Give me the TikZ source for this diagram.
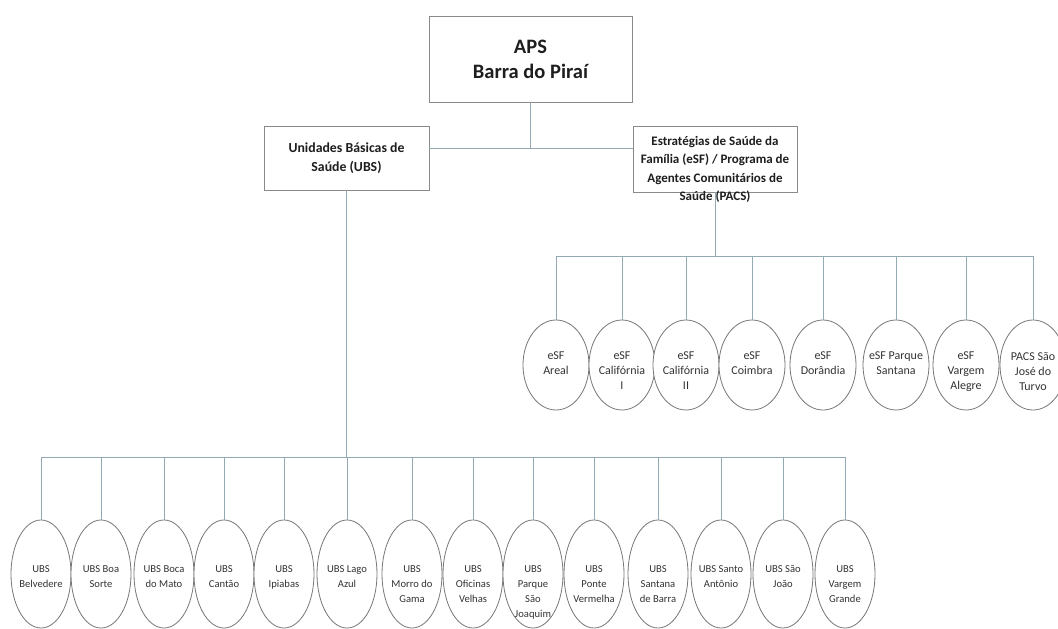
\documentclass[tikz,border=0pt]{standalone}
\usepackage{fontspec}
\setmainfont{Carlito}
\usepackage{tikz}
\usetikzlibrary{positioning, shapes.geometric}
\usepackage{xcolor}
\definecolor{lineBlue}{HTML}{93A9B4}
\definecolor{boxGrey}{HTML}{8A8A8A}
\definecolor{ovalGrey}{HTML}{787878}
\definecolor{textDark}{HTML}{333333}
\definecolor{textBlack}{HTML}{1E1E1E}
\tikzset{
  orgbox/.style={draw=boxGrey, line width=0.9pt, fill=white, inner sep=0pt},
  boxtext/.style={text=textBlack, align=center, inner sep=0pt, font=\fontsize{13}{18.5}\selectfont\bfseries},
  oval/.style={ellipse, draw=ovalGrey, line width=0.8pt, fill=white, inner sep=0pt},
  ovaltext/.style={text=textDark, align=center, inner sep=0pt, anchor=north, font=\fontsize{10.6}{15}\selectfont},
  link/.style={draw=lineBlue, line width=1pt}
}

\begin{document}
\begin{tikzpicture}[x=1pt, y=-1pt]
  \fill[white] (0,0) rectangle (1058,629);
  \clip (0,0) rectangle (1058,629);

  % top and second level
  \node[orgbox, minimum width=203pt, minimum height=86pt, boxtext,
        font=\fontsize{20.5}{25}\selectfont\bfseries] (aps) at (530.5,59) {APS\\Barra do Piraí};
  \node[orgbox, minimum width=165pt, minimum height=64pt, boxtext,
        font=\fontsize{13.8}{18.5}\selectfont\bfseries] (ubs) at (346.5,158)
        {Unidades Básicas de\\Saúde (UBS)};
  \node[orgbox, minimum width=164pt, minimum height=66pt] (esf) at (715,159) {};
  \node[boxtext] (esftxt) at (715,169.5)
        {Estratégias de Saúde da\\Família (eSF) / Programa de\\Agentes Comunitários de\\Saúde (PACS)};

  \coordinate (midrow) at (0,148);
  \coordinate (ebus) at (0,256);
  \coordinate (ubus) at (0,457);

  \draw[link] (aps.south) -- (aps.south |- midrow);
  \draw[link] (ubs.east |- midrow) -- (esf.west |- midrow);

  % eSF / PACS units
  \foreach \i/\x/\lbl in {1/556/{eSF\\Areal}, 2/622/{eSF\\Califórnia\\I}, 3/686/{eSF\\Califórnia\\II},
      4/752/{eSF\\Coimbra}, 5/823/{eSF\\Dorândia}, 6/896/{eSF Parque\\Santana},
      7/966/{eSF\\Vargem\\Alegre}, 8/1033/{PACS São\\José do\\Turvo}} {
    \node[oval, minimum width=66pt, minimum height=90pt] (e\i) at (\x,365) {};
    \node[ovaltext, font=\fontsize{12}{15}\selectfont] (et\i) at (\x,352) {\lbl};
  }
  \draw[link] (esf.south) -- (esf.south |- ebus);
  \draw[link] (e1.north |- ebus) -- (e8.north |- ebus);
  \foreach \i in {1,...,8} {
    \draw[link] (e\i.north |- ebus) -- (e\i.north);
  }

  % UBS units
  \foreach \i/\x/\lbl in {1/41/{UBS\\Belvedere}, 2/101/{UBS Boa\\Sorte}, 3/164/{UBS Boca\\do Mato},
      4/224/{UBS\\Cantão}, 5/284/{UBS\\Ipiabas}, 6/347/{UBS Lago\\Azul},
      7/412/{UBS\\Morro do\\Gama}, 8/473/{UBS\\Oficinas\\Velhas}, 9/533/{UBS\\Parque\\São\\Joaquim},
      10/594/{UBS\\Ponte\\Vermelha}, 11/658/{UBS\\Santana\\de Barra}, 12/721/{UBS Santo\\Antônio},
      13/783/{UBS São\\João}, 14/845/{UBS\\Vargem\\Grande}} {
    \node[oval, minimum width=60pt, minimum height=108pt] (u\i) at (\x,574) {};
    \node[ovaltext] (ut\i) at (\x,565) {\lbl};
  }
  \draw[link] (ubs.south) -- (ubs.south |- ubus);
  \draw[link] (u1.north |- ubus) -- (u14.north |- ubus);
  \foreach \i in {1,...,14} {
    \draw[link] (u\i.north |- ubus) -- (u\i.north);
  }
\end{tikzpicture}
\end{document}
